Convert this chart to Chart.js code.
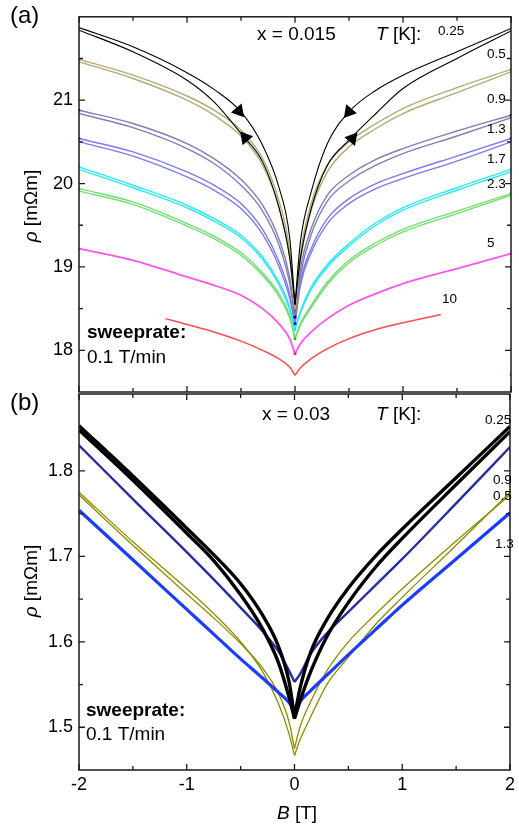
<!DOCTYPE html>
<html>
<head>
<meta charset="utf-8">
<script src="https://cdn.jsdelivr.net/npm/chart.js@4.4.1/dist/chart.umd.min.js"></script>
<style>
  html, body { margin: 0; padding: 0; background: #fff; }
  #wrap { position: relative; width: 519px; height: 825px; }
  #wrap canvas { position: absolute; left: 0; top: 0; }
</style>
</head>
<body>
<div id="wrap">
  <canvas id="panelA" width="519" height="825"></canvas>
  <canvas id="panelB" width="519" height="825"></canvas>
</div>
<script>
const FONT = "'Liberation Sans', Arial, sans-serif";

// field values of the sweep readings (T)
const field = [-2, -1.5, -1, -0.75, -0.5, -0.3, -0.15, -0.05, 0, 0.05, 0.15, 0.3, 0.5, 0.75, 1, 1.5, 2];
const fieldT10 = [-1.2, -1, -0.75, -0.5, -0.3, -0.15, -0.05, 0, 0.05, 0.15, 0.3, 0.5, 0.75, 1, 1.35];

// x = 0.015, resistivity in mOhm m, two sweep directions per temperature
const rhoA025dn = [21.87, 21.64, 21.33, 21.13, 20.86, 20.46, 19.96, 19.36, 18.55, 19.3, 19.9, 20.48, 20.86, 21.12, 21.3, 21.58, 21.86];
const rhoA025up = [21.84, 21.58, 21.24, 20.98, 20.6, 20.26, 19.72, 19.12, 18.55, 19.1, 19.7, 20.22, 20.52, 20.84, 21.14, 21.5, 21.83];
const rhoA05dn = [21.49, 21.3, 21.05, 20.88, 20.64, 20.3, 19.8, 19.2, 18.48, 19.15, 19.76, 20.22, 20.5, 20.72, 20.9, 21.15, 21.37];
const rhoA05up = [21.46, 21.26, 21.0, 20.82, 20.57, 20.22, 19.72, 19.12, 18.48, 19.08, 19.68, 20.14, 20.44, 20.66, 20.84, 21.09, 21.34];
const rhoA09dn = [20.88, 20.72, 20.48, 20.3, 20.05, 19.74, 19.34, 18.88, 18.4, 18.97, 19.46, 19.86, 20.1, 20.29, 20.42, 20.63, 20.82];
const rhoA09up = [20.84, 20.67, 20.42, 20.24, 19.98, 19.67, 19.27, 18.81, 18.4, 18.9, 19.39, 19.79, 20.03, 20.22, 20.36, 20.57, 20.79];
const rhoA13dn = [20.54, 20.38, 20.14, 19.98, 19.76, 19.45, 19.07, 18.68, 18.32, 18.82, 19.22, 19.58, 19.82, 20.0, 20.12, 20.33, 20.54];
const rhoA13up = [20.5, 20.33, 20.08, 19.92, 19.7, 19.39, 19.01, 18.63, 18.32, 18.78, 19.17, 19.52, 19.76, 19.94, 20.06, 20.27, 20.5];
const rhoA17dn = [20.2, 19.98, 19.74, 19.58, 19.38, 19.12, 18.82, 18.52, 18.25, 18.47, 18.76, 19.03, 19.28, 19.53, 19.71, 19.95, 20.17];
const rhoA17up = [20.17, 19.95, 19.71, 19.55, 19.35, 19.09, 18.79, 18.49, 18.25, 18.45, 18.73, 19.0, 19.25, 19.5, 19.68, 19.92, 20.14];
const rhoA23dn = [19.94, 19.78, 19.52, 19.37, 19.17, 18.93, 18.68, 18.42, 18.14, 18.32, 18.54, 18.82, 19.08, 19.29, 19.45, 19.67, 19.88];
const rhoA23up = [19.91, 19.75, 19.49, 19.34, 19.14, 18.9, 18.65, 18.39, 18.14, 18.3, 18.51, 18.79, 19.05, 19.26, 19.42, 19.64, 19.86];
const rhoA5 = [19.22, 19.08, 18.88, 18.78, 18.66, 18.5, 18.32, 18.14, 17.96, 18.08, 18.22, 18.38, 18.54, 18.68, 18.8, 18.98, 19.16];
const rhoA10 = [18.38, 18.31, 18.22, 18.11, 18.0, 17.9, 17.8, 17.7, 17.79, 17.9, 18.02, 18.14, 18.25, 18.33, 18.43];
const strayB = [2];
const strayRho = [17.71];

// sweep direction arrows on the 0.25 K loop
const arrowB = [-0.52, -0.46, 0.5, 0.53];
const arrowRho = [20.87, 20.55, 20.86, 20.54];
const arrowDeg = [140, 320, 220, 40];

// x = 0.03
const rhoB025dn = [1.853, 1.794, 1.733, 1.702, 1.668, 1.632, 1.595, 1.553, 1.512, 1.545, 1.588, 1.626, 1.663, 1.7, 1.732, 1.792, 1.852];
const rhoB025up = [1.848, 1.789, 1.727, 1.695, 1.655, 1.616, 1.576, 1.535, 1.51, 1.53, 1.565, 1.606, 1.646, 1.687, 1.721, 1.784, 1.846];
const rhoB09 = [1.83, 1.767, 1.705, 1.673, 1.64, 1.613, 1.589, 1.566, 1.553, 1.562, 1.586, 1.61, 1.635, 1.666, 1.697, 1.762, 1.828];
const rhoB05dn = [1.775, 1.717, 1.662, 1.633, 1.6, 1.566, 1.528, 1.492, 1.467, 1.485, 1.512, 1.55, 1.582, 1.62, 1.652, 1.713, 1.775];
const rhoB05up = [1.772, 1.713, 1.656, 1.628, 1.598, 1.57, 1.54, 1.506, 1.475, 1.5, 1.53, 1.566, 1.6, 1.632, 1.662, 1.718, 1.772];
const rhoB13 = [1.754, 1.696, 1.638, 1.609, 1.58, 1.558, 1.541, 1.529, 1.52, 1.53, 1.543, 1.561, 1.585, 1.614, 1.643, 1.697, 1.751];

// axis ticks
const xMajor = [-2, -1, 0, 1, 2];
const xMinor = [-1.5, -0.5, 0.5, 1.5];
const yMajorA = [18, 19, 20, 21];
const yMinorA = [18.5, 19.5, 20.5, 21.5];
const yMajorB = [1.5, 1.6, 1.7, 1.8];
const yMinorB = [1.55, 1.65, 1.75, 1.85];

// temperature labels (K)
const tempsA = ['0.25', '0.5', '0.9', '1.3', '1.7', '2.3', '5', '10'];
const tempsB = ['0.25', '0.9', '0.5', '1.3'];

function pts(xs, ys) {
  return xs.map((b, i) => ({ x: b, y: ys[i] }));
}

// one trace split at B = 0 so the cusp stays sharp
function trace(xs, ys, color, width, mark) {
  const left = pts(xs, ys).filter(p => p.x <= 0);
  const right = pts(xs, ys).filter(p => p.x >= 0);
  return [left, right].map(data => ({
    data,
    showLine: true,
    borderColor: color,
    borderWidth: width,
    cubicInterpolationMode: 'monotone',
    pointStyle: 'rect',
    pointBorderWidth: 0,
    pointBackgroundColor: mark || color,
    pointRadius: mark ? (c => (c.dataIndex === 0 || c.dataIndex === data.length - 1) ? 1.7 : 0) : 0
  }));
}

function drawRuns(ctx, x, y, size, runs, align) {
  const fonts = runs.map(r => `${r[1] || 'normal'} ${size}px ${FONT}`);
  let total = 0;
  runs.forEach((r, i) => { ctx.font = fonts[i]; total += ctx.measureText(r[0]).width; });
  let cx = align === 'center' ? x - total / 2 : x;
  runs.forEach((r, i) => {
    ctx.font = fonts[i];
    ctx.fillText(r[0], cx, y);
    cx += ctx.measureText(r[0]).width;
  });
}

const framePlugin = {
  id: 'frame',
  afterDraw(chart, args, opts) {
    const { ctx, chartArea: a, scales: { x, y } } = chart;
    ctx.save();
    ctx.strokeStyle = '#1a1a1a';
    ctx.lineWidth = 1.5;
    ctx.strokeRect(a.left, a.top, a.right - a.left, a.bottom - a.top);
    ctx.lineWidth = 1.3;
    ctx.beginPath();
    const xt = xMajor.map(v => [v, 6]).concat(xMinor.map(v => [v, 4]));
    xt.forEach(([v, len]) => {
      const px = x.getPixelForValue(v);
      ctx.moveTo(px, a.top); ctx.lineTo(px, a.top + len);
      ctx.moveTo(px, a.bottom); ctx.lineTo(px, a.bottom - len);
    });
    const yt = opts.yMajor.map(v => [v, 6]).concat(opts.yMinor.map(v => [v, 4]));
    yt.forEach(([v, len]) => {
      const py = y.getPixelForValue(v);
      ctx.moveTo(a.left, py); ctx.lineTo(a.left + len, py);
      ctx.moveTo(a.right, py); ctx.lineTo(a.right - len, py);
    });
    ctx.stroke();

    ctx.fillStyle = '#000';
    ctx.textBaseline = 'alphabetic';
    opts.texts.forEach(t => {
      if (t.rotate) {
        ctx.save();
        ctx.translate(t.x, t.y);
        ctx.rotate(-Math.PI / 2);
        drawRuns(ctx, 0, 0, t.size, t.runs, 'center');
        ctx.restore();
      } else {
        drawRuns(ctx, t.x, t.y, t.size, t.runs, t.align);
      }
    });
    opts.temps.forEach((s, i) => {
      const [tx, ty] = opts.tempPos[i];
      drawRuns(ctx, tx, ty, 13.5, [[s]]);
    });
    ctx.restore();
  }
};

function yScale(min, max, major, fmt) {
  return {
    min, max,
    afterFit: s => { s.width = 79; },
    afterBuildTicks: s => { s.ticks = major.map(v => ({ value: v })); },
    grid: { display: false, drawTicks: false },
    border: { display: false },
    ticks: { padding: 6, color: '#000', font: { family: FONT, size: 18 }, callback: fmt }
  };
}

const datasetsA = [{
  data: pts(arrowB, arrowRho),
  pointStyle: 'triangle',
  pointRadius: 8,
  rotation: arrowDeg,
  pointBackgroundColor: '#000',
  pointBorderWidth: 0,
  showLine: false
}].concat(
  trace(field, rhoA025dn, '#000', 1.1),
  trace(field, rhoA025up, '#000', 1.1),
  trace(field, rhoA05dn, '#b3aa78', 1.4, '#8b8000'),
  trace(field, rhoA05up, '#b3aa78', 1.4),
  trace(field, rhoA09dn, '#7e7eb8', 1.4, '#00008b'),
  trace(field, rhoA09up, '#7e7eb8', 1.4),
  trace(field, rhoA13dn, '#7b7bea', 1.4, '#0000ff'),
  trace(field, rhoA13up, '#7b7bea', 1.4),
  trace(field, rhoA17dn, '#2ee6f2', 1.4, '#00e5ff'),
  trace(field, rhoA17up, '#2ee6f2', 1.4),
  trace(field, rhoA23dn, '#72dd72', 1.4, '#00cc00'),
  trace(field, rhoA23up, '#72dd72', 1.4),
  trace(field, rhoA5, '#ff55ea', 1.8, '#ff00ff'),
  trace(fieldT10, rhoA10, '#ff4d4d', 1.5),
  [{ data: pts(strayB, strayRho), pointStyle: 'rect', pointRadius: 1.7, pointBackgroundColor: '#ff0000', pointBorderWidth: 0 }]
);

new Chart(document.getElementById('panelA'), {
  type: 'scatter',
  data: { datasets: datasetsA },
  options: {
    responsive: false,
    animation: false,
    events: [],
    layout: { padding: { top: 15, right: 7, bottom: 433, left: 0 } },
    scales: {
      x: { type: 'linear', min: -2, max: 2, display: false },
      y: yScale(17.5, 22, yMajorA, v => String(v))
    },
    plugins: {
      legend: { display: false },
      tooltip: { enabled: false },
      frame: {
        yMajor: yMajorA,
        yMinor: yMinorA,
        temps: tempsA,
        tempPos: [[438, 35], [487, 58], [487, 103], [487, 133], [487, 163], [487, 188], [487, 247], [442, 303]],
        texts: [
          { x: 10, y: 23, size: 24, runs: [['(a)']] },
          { x: 257, y: 40, size: 19, runs: [['x = 0.015']] },
          { x: 376, y: 40, size: 19, runs: [['T', 'italic'], [' [K]:']] },
          { x: 87, y: 338, size: 19, runs: [['sweeprate:', 'bold']] },
          { x: 87, y: 363, size: 19, runs: [['0.1 T/min']] },
          { x: 37, y: 206, size: 19, rotate: true, runs: [['ρ', 'italic'], [' [mΩm]']] }
        ]
      }
    }
  },
  plugins: [framePlugin]
});

const datasetsB = [].concat(
  trace(field, rhoB025dn, '#000', 3.4),
  trace(field, rhoB025up, '#000', 3.4),
  trace(field, rhoB09, 'rgba(20,20,150,0.9)', 2.4),
  trace(field, rhoB13, '#1a3dff', 3.2),
  trace(field, rhoB05dn, '#8c8c00', 1.3),
  trace(field, rhoB05up, '#8c8c00', 1.3)
);

new Chart(document.getElementById('panelB'), {
  type: 'scatter',
  data: { datasets: datasetsB },
  options: {
    responsive: false,
    animation: false,
    events: [],
    layout: { padding: { top: 394, right: 7, bottom: 0, left: 0 } },
    scales: {
      x: {
        type: 'linear', min: -2, max: 2,
        afterFit: s => { s.height = 55; },
        afterBuildTicks: s => { s.ticks = xMajor.map(v => ({ value: v })); },
        grid: { display: false, drawTicks: false },
        border: { display: false },
        ticks: { padding: 4, color: '#000', font: { family: FONT, size: 18 }, maxRotation: 0, callback: v => String(v) }
      },
      y: yScale(1.45, 1.89, yMajorB, v => v.toFixed(1))
    },
    plugins: {
      legend: { display: false },
      tooltip: { enabled: false },
      frame: {
        yMajor: yMajorB,
        yMinor: yMinorB,
        temps: tempsB,
        tempPos: [[485, 424], [493, 484], [493, 500], [495, 548]],
        texts: [
          { x: 10, y: 410, size: 24, runs: [['(b)']] },
          { x: 262, y: 420, size: 19, runs: [['x = 0.03']] },
          { x: 376, y: 420, size: 19, runs: [['T', 'italic'], [' [K]:']] },
          { x: 86, y: 716, size: 19, runs: [['sweeprate:', 'bold']] },
          { x: 86, y: 740, size: 19, runs: [['0.1 T/min']] },
          { x: 37, y: 581, size: 19, rotate: true, runs: [['ρ', 'italic'], [' [mΩm]']] },
          { x: 297, y: 819, size: 19, align: 'center', runs: [['B', 'italic'], [' [T]']] }
        ]
      }
    }
  },
  plugins: [framePlugin]
});
</script>
</body>
</html>
